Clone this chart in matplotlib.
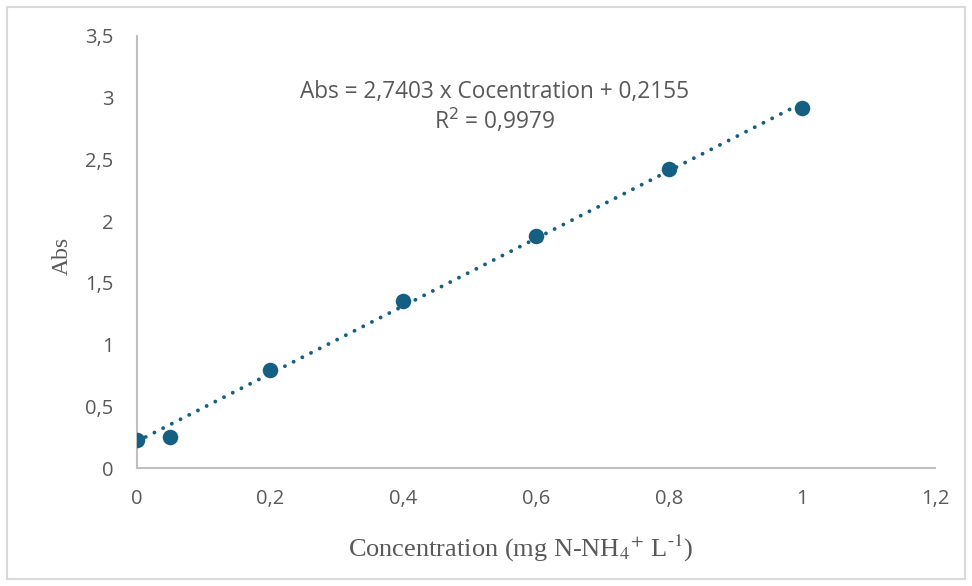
import matplotlib
matplotlib.use("Agg")
import matplotlib.pyplot as plt
from matplotlib.patches import Rectangle
from matplotlib.ticker import FuncFormatter
import numpy as np

conc = [0.0, 0.05, 0.2, 0.4, 0.6, 0.8, 1.0]
absorb = [0.23, 0.25, 0.79, 1.35, 1.88, 2.42, 2.92]
slope = 2.7403
intercept = 0.2155
xticks = [0, 0.2, 0.4, 0.6, 0.8, 1.0, 1.2]
yticks = [0, 0.5, 1, 1.5, 2, 2.5, 3, 3.5]

color = "#156082"
gray_text = "#595959"
sans = ["Open Sans", "DejaVu Sans"]
serif = ["Liberation Serif", "DejaVu Serif"]

fig = plt.figure(figsize=(9.72, 5.86), dpi=100)
fig.patches.append(Rectangle((7/972, 7/586), 958/972, 572/586, transform=fig.transFigure,
                             fill=False, edgecolor="#d9d9d9", linewidth=1.5))
ax = fig.add_axes([137/972, 118/586, 798/972, 432/586])

xs = np.array([conc[0], conc[-1]])
ax.plot(xs, slope * xs + intercept, linestyle=(0, (0.01, 2.5)), color=color, linewidth=2.8,
        dash_capstyle="round", zorder=2)
ax.scatter(conc, absorb, s=125, color=color, zorder=3, linewidths=0)

ax.set_xlim(0, 1.2)
ax.set_ylim(0, 3.5)
ax.set_xticks(xticks)
ax.set_yticks(yticks)
fmt = FuncFormatter(lambda v, p: ("%g" % round(v, 2)).replace(".", ","))
ax.xaxis.set_major_formatter(fmt)
ax.yaxis.set_major_formatter(fmt)
ax.tick_params(length=0, labelsize=14.5, labelcolor=gray_text)
ax.tick_params(axis="x", pad=15)
ax.tick_params(axis="y", pad=17)
for lab in ax.get_xticklabels() + ax.get_yticklabels():
    lab.set_fontfamily(sans)
for s in ["top", "right"]:
    ax.spines[s].set_visible(False)
for s in ["left", "bottom"]:
    ax.spines[s].set_color("#bfbfbf")
    ax.spines[s].set_linewidth(1.5)

ax.text(0.537, 3.05, "Abs = 2,7403 x Cocentration + 0,2155", ha="center", va="center",
        fontsize=16.3, color=gray_text, family=sans)
ax.text(0.537, 2.81, "R$^{2}$ = 0,9979", ha="center", va="center",
        fontsize=16.3, color=gray_text, family=sans)

fig.text(521/972, 1 - 548/586,
         "Concentration (mg N-NH$_{4}$$^{+}$ L$^{\\mathregular{\u2010}1}$)",
         ha="center", va="center", fontsize=19, color=gray_text, family=serif,
         math_fontfamily="stix")
fig.text(62/972, 1 - 256/586, "Abs", ha="center", va="center", rotation=90,
         fontsize=17, color=gray_text, family=serif)

fig.savefig("out.png", dpi=100)
